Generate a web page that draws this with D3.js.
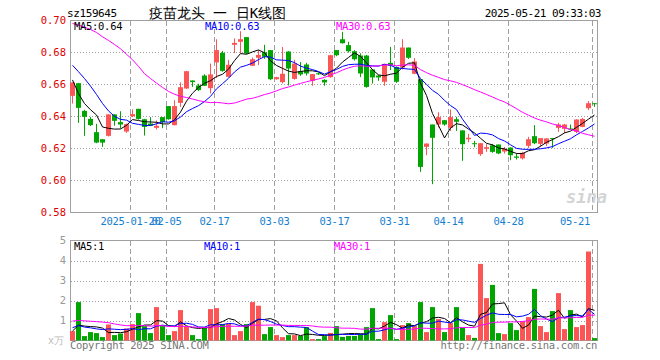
<!DOCTYPE html>
<html><head><meta charset="utf-8">
<script src="https://cdn.jsdelivr.net/npm/d3@7"></script>
<style>
body{margin:0;background:#fff;}
svg{display:block;}
text{font-family:"DejaVu Sans Mono",monospace;}
</style></head><body>
<svg id="c" width="660" height="360"></svg>
<script>
// ---------- data ----------
const dates = [
"2025-01-06","2025-01-07","2025-01-08","2025-01-09","2025-01-10",
"2025-01-13","2025-01-14","2025-01-15","2025-01-16","2025-01-17",
"2025-01-20","2025-01-21","2025-01-22","2025-01-23","2025-01-24","2025-01-27",
"2025-02-05","2025-02-06","2025-02-07",
"2025-02-10","2025-02-11","2025-02-12","2025-02-13","2025-02-14",
"2025-02-17","2025-02-18","2025-02-19","2025-02-20","2025-02-21",
"2025-02-24","2025-02-25","2025-02-26","2025-02-27","2025-02-28",
"2025-03-03","2025-03-04","2025-03-05","2025-03-06","2025-03-07",
"2025-03-10","2025-03-11","2025-03-12","2025-03-13","2025-03-14",
"2025-03-17","2025-03-18","2025-03-19","2025-03-20","2025-03-21",
"2025-03-24","2025-03-25","2025-03-26","2025-03-27","2025-03-28",
"2025-03-31","2025-04-01","2025-04-02","2025-04-03",
"2025-04-07","2025-04-08","2025-04-09","2025-04-10","2025-04-11",
"2025-04-14","2025-04-15","2025-04-16","2025-04-17","2025-04-18",
"2025-04-21","2025-04-22","2025-04-23","2025-04-24","2025-04-25",
"2025-04-28","2025-04-29","2025-04-30",
"2025-05-06","2025-05-07","2025-05-08","2025-05-09",
"2025-05-12","2025-05-13","2025-05-14","2025-05-15","2025-05-16",
"2025-05-19","2025-05-20","2025-05-21"];

const open = [
0.6529,0.6608,0.6435,0.6385,0.6302,0.6258,0.6279,0.6413,0.6365,0.6306,
0.6402,0.6448,0.6383,0.6356,0.6329,0.6396,0.6465,0.6346,0.6485,0.6575,
0.6625,0.6594,0.6656,0.6577,0.6738,0.6798,0.6648,0.6848,0.6867,0.6896,
0.6717,0.6767,0.6802,0.6815,0.6633,0.6615,0.6806,0.6635,0.6683,0.6725,
0.6623,0.6670,0.6629,0.6646,0.6815,0.6883,0.6846,0.6808,0.6781,0.6781,
0.6694,0.6656,0.6617,0.6735,0.6710,0.6706,0.6831,0.6667,0.6633,0.6210,
0.6350,0.6350,0.6377,0.6329,0.6383,0.6313,0.6258,0.6233,0.6165,0.6198,
0.6220,0.6225,0.6181,0.6206,0.6150,0.6138,0.6217,0.6277,0.6229,0.6231,
0.6265,0.6329,0.6323,0.6325,0.6304,0.6335,0.6452,0.6483];
const high = [
0.6613,0.6610,0.6442,0.6398,0.6354,0.6258,0.6415,0.6413,0.6433,0.6356,
0.6444,0.6448,0.6385,0.6396,0.6375,0.6396,0.6465,0.6502,0.6613,0.6685,
0.6625,0.6605,0.6664,0.6731,0.6883,0.6810,0.6754,0.6888,0.6933,0.6896,
0.6769,0.6815,0.6848,0.6815,0.6648,0.6835,0.6808,0.6754,0.6740,0.6735,
0.6665,0.6675,0.6633,0.6785,0.6815,0.6929,0.6867,0.6815,0.6795,0.6785,
0.6694,0.6660,0.6729,0.6835,0.6712,0.6883,0.6831,0.6765,0.6633,0.6231,
0.6350,0.6427,0.6377,0.6444,0.6398,0.6313,0.6292,0.6248,0.6233,0.6227,
0.6229,0.6225,0.6210,0.6206,0.6169,0.6179,0.6273,0.6346,0.6265,0.6263,
0.6265,0.6360,0.6354,0.6350,0.6383,0.6390,0.6496,0.6483];
const low = [
0.6481,0.6360,0.6279,0.6340,0.6233,0.6210,0.6275,0.6342,0.6325,0.6298,
0.6396,0.6380,0.6281,0.6340,0.6319,0.6327,0.6380,0.6344,0.6460,0.6573,
0.6585,0.6560,0.6590,0.6544,0.6640,0.6680,0.6644,0.6796,0.6796,0.6790,
0.6715,0.6721,0.6760,0.6627,0.6630,0.6606,0.6594,0.6630,0.6654,0.6656,
0.6592,0.6660,0.6592,0.6642,0.6777,0.6856,0.6800,0.6750,0.6646,0.6580,
0.6606,0.6623,0.6592,0.6690,0.6610,0.6694,0.6760,0.6665,0.6054,0.6158,
0.5977,0.6331,0.6342,0.6310,0.6310,0.6123,0.6240,0.6208,0.6154,0.6179,
0.6173,0.6165,0.6169,0.6127,0.6131,0.6131,0.6202,0.6227,0.6210,0.6215,
0.6204,0.6304,0.6296,0.6317,0.6296,0.6333,0.6440,0.6460];
const close = [
0.6613,0.6454,0.6398,0.6346,0.6237,0.6237,0.6413,0.6373,0.6350,0.6352,
0.6415,0.6385,0.6335,0.6342,0.6342,0.6365,0.6383,0.6465,0.6583,0.6683,
0.6615,0.6565,0.6592,0.6663,0.6815,0.6685,0.6723,0.6860,0.6883,0.6794,
0.6758,0.6785,0.6773,0.6633,0.6646,0.6667,0.6700,0.6731,0.6663,0.6669,
0.6665,0.6665,0.6613,0.6783,0.6783,0.6858,0.6808,0.6758,0.6669,0.6585,
0.6644,0.6644,0.6729,0.6719,0.6617,0.6831,0.6767,0.6744,0.6085,0.6231,
0.6267,0.6396,0.6350,0.6396,0.6367,0.6227,0.6267,0.6227,0.6233,0.6208,
0.6179,0.6169,0.6198,0.6158,0.6142,0.6173,0.6258,0.6233,0.6265,0.6263,
0.6260,0.6350,0.6350,0.6319,0.6381,0.6385,0.6483,0.6479];
// volume (x万)
const volume = [
0.47,1.92,0.22,0.42,0.37,0.17,0.80,0.27,0.35,0.60,
0.82,1.37,0.72,0.37,1.67,0.72,0.27,0.47,1.52,0.69,
0.27,0.07,0.64,1.57,1.62,0.82,0.85,0.27,0.47,0.82,
1.92,1.74,0.32,0.67,0.27,0.17,0.27,0.27,0.23,0.67,
0.07,0.07,0.22,0.38,0.72,0.18,0.23,0.23,0.32,0.67,
1.62,0.07,0.92,1.27,0.07,0.77,0.87,0.72,1.92,0.42,
1.67,1.07,0.42,0.87,1.67,0.64,0.27,0.13,3.83,2.12,
2.78,0.37,0.32,0.87,0.52,0.97,1.17,2.58,0.72,0.42,
1.47,2.37,0.57,1.52,0.67,0.77,4.45,0.12];
// 29 sessions before the first visible day (not drawn; only feed the moving averages)
const priorClose = [
0.676,0.678,0.678,0.680,0.705,0.710,0.712,0.716,0.738,0.744,
0.764,0.770,0.725,0.720,0.717,0.713,0.700,0.697,0.692,0.689,
0.686,0.682,0.682,0.676,0.680,0.688,0.671,0.654,0.640];
const priorVolume = [
0.95,0.85,1.00,0.90,0.90,1.70,2.10,1.90,1.72,0.80,
1.20,0.90,1.10,0.70,1.00,1.30,0.80,0.90,1.00,0.98,
0.83,1.00,0.80,0.90,0.50,0.45,0.45,0.55,0.45];

const priceTicks = [0.58,0.60,0.62,0.64,0.66,0.68,0.70];
const volTicks = [0,1,2,3,4,5];
const tickDates = ["2025-01-20","2025-02-05","2025-02-17","2025-03-03","2025-03-17","2025-03-31","2025-04-14","2025-04-28","2025-05-21"];
const tickLabels = ["2025-01-20","02-05","02-17","03-03","03-17","03-31","04-14","04-28","05-21"];
const maPeriods = [5,10,30];
const maColors = ["#000000","#0000ff","#ff00ff"];
const maPriceLabels = ["0.64","0.63","0.63"];
const maVolLabels = ["1","1","1"];

// ---------- drawing ----------
const UP = "#fc5555", DOWN = "#00a500", GRID = "#a0a0a0", FRAME = "#a0a0a0";
const svg = d3.select("#c");
svg.append("rect").attr("width",660).attr("height",360).attr("fill","#fff");

const x = d3.scaleBand().domain(dates).range([70,598]);
const yP = d3.scaleLinear().domain([0.58,0.70]).range([212.5,20.5]);
const yV = d3.scaleLinear().domain([0,5]).range([340.5,240.5]);
const cx = d => x(d) + 2.5;

function movingAvg(prior, vals, n){
  const all = prior.concat(vals);
  return vals.map((_,i)=>{const e = prior.length+i; return d3.mean(all.slice(e-n+1,e+1));});
}

// header
svg.append("text").attr("x",67).attr("y",17).attr("font-size",11).attr("letter-spacing",-0.4)
  .attr("fill","#000").text("sz159645");
svg.append("text").attr("x",149).attr("y",18).attr("font-size",14)
  .attr("font-family","'Noto Sans CJK SC',sans-serif").attr("fill","#000").text("疫苗龙头 一 日K线图");
svg.append("text").attr("x",601).attr("y",17).attr("text-anchor","end").attr("font-size",11).attr("letter-spacing",-0.5)
  .attr("fill","#000").text("2025-05-21 09:33:03");

// grids
const gP = svg.append("g");
gP.selectAll("line.h").data(priceTicks.slice(1,-1)).join("line")
  .attr("x1",71).attr("x2",597).attr("y1",d=>Math.round(yP(d))+0.5).attr("y2",d=>Math.round(yP(d))+0.5)
  .attr("stroke",GRID).attr("stroke-dasharray","1,2");
const gV = svg.append("g");
gV.selectAll("line.h").data(volTicks.slice(1,-1)).join("line")
  .attr("x1",71).attr("x2",597).attr("y1",d=>Math.round(yV(d))+0.5).attr("y2",d=>Math.round(yV(d))+0.5)
  .attr("stroke",GRID).attr("stroke-dasharray","1,2");
[[21,212],[241,340]].forEach(([a,b])=>{
  svg.append("g").selectAll("line").data(tickDates).join("line")
    .attr("x1",d=>x(d)+0.5).attr("x2",d=>x(d)+0.5).attr("y1",a).attr("y2",b)
    .attr("stroke",GRID).attr("stroke-dasharray","5,3");
});

// frames
svg.append("rect").attr("x",70.5).attr("y",20.5).attr("width",527).attr("height",192)
  .attr("fill","none").attr("stroke",FRAME);
svg.append("rect").attr("x",70.5).attr("y",240.5).attr("width",527).attr("height",100)
  .attr("fill","none").attr("stroke",FRAME);

// axis labels
svg.append("g").selectAll("text").data(priceTicks).join("text")
  .attr("x",66).attr("y",d=>yP(d)).attr("dy","0.36em").attr("text-anchor","end")
  .attr("font-size",10.5).attr("fill","#e00000").text(d=>d.toFixed(2));
svg.append("g").selectAll("text").data(volTicks.slice(1)).join("text")
  .attr("x",66).attr("y",d=>yV(d)).attr("dy","0.36em").attr("text-anchor","end")
  .attr("font-size",10.5).attr("fill","#999").text(d=>d);
svg.append("text").attr("x",64).attr("y",344).attr("text-anchor","end").attr("font-size",10)
  .attr("font-family","'Noto Sans CJK SC',sans-serif").attr("fill","#bbb").text("x万");
svg.append("g").selectAll("text").data(tickDates).join("text")
  .attr("x",(d,i)=> i===tickDates.length-1 ? x(d)-2 : x(d)+0.5)
  .attr("y",225).attr("text-anchor",(d,i)=> i===tickDates.length-1 ? "end":"middle")
  .attr("font-size",10.5).attr("letter-spacing",-0.3).attr("fill","#1580d0").text((d,i)=>tickLabels[i]);

// watermark
svg.append("text").attr("x",566).attr("y",203).attr("font-family","Arial,'Liberation Sans',sans-serif")
  .attr("font-size",17).attr("font-weight","bold").attr("font-style","italic").attr("fill","#d4d4d4").text("sina");

// candles
const idx = d3.range(dates.length);
const gc = svg.append("g");
gc.selectAll("line").data(idx).join("line")
  .attr("x1",i=>cx(dates[i])).attr("x2",i=>cx(dates[i]))
  .attr("y1",i=>yP(high[i])).attr("y2",i=>yP(low[i]))
  .attr("stroke",i=>close[i]>=open[i]?UP:DOWN);
gc.selectAll("rect").data(idx).join("rect")
  .attr("x",i=>x(dates[i])).attr("width",5)
  .attr("y",i=>yP(Math.max(open[i],close[i])))
  .attr("height",i=>Math.max(1,Math.abs(yP(open[i])-yP(close[i]))))
  .attr("fill",i=>close[i]>=open[i]?UP:DOWN);

// volume bars
svg.append("g").selectAll("rect").data(idx).join("rect")
  .attr("x",i=>x(dates[i])).attr("width",5)
  .attr("y",i=>yV(volume[i])).attr("height",i=>yV(0)-yV(volume[i]))
  .attr("fill",i=>close[i]>=open[i]?UP:DOWN);

// moving averages
maPeriods.forEach((n,k)=>{
  const mp = movingAvg(priorClose, close, n);
  svg.append("path").datum(idx).attr("fill","none").attr("stroke",maColors[k]).attr("stroke-width",1)
    .attr("d",d3.line().x(i=>cx(dates[i])).y(i=>yP(mp[i])));
  const mv = movingAvg(priorVolume, volume, n);
  svg.append("path").datum(idx).attr("fill","none").attr("stroke",maColors[k]).attr("stroke-width",1)
    .attr("d",d3.line().x(i=>cx(dates[i])).y(i=>yV(mv[i])));
});

// MA legends
const legX = [74,205,336], legXv=[74,204,334];
maPeriods.forEach((n,k)=>{
  svg.append("text").attr("x",legX[k]).attr("y",30).attr("font-size",10.5).attr("letter-spacing",-0.3)
    .attr("fill",maColors[k]).text(`MA${n}:${maPriceLabels[k]}`);
  svg.append("text").attr("x",legXv[k]).attr("y",250).attr("font-size",10.5).attr("letter-spacing",-0.3)
    .attr("fill",maColors[k]).text(`MA${n}:${maVolLabels[k]}`);
});

// footer
svg.append("text").attr("x",70).attr("y",349).attr("font-size",10.5).attr("letter-spacing",-0.3)
  .attr("fill","#777").text("Copyright 2025 SINA.COM");
svg.append("text").attr("x",597).attr("y",349).attr("text-anchor","end").attr("font-size",10.5).attr("letter-spacing",-0.3)
  .attr("fill","#777").text("http://finance.sina.com.cn");
</script>
</body></html>
